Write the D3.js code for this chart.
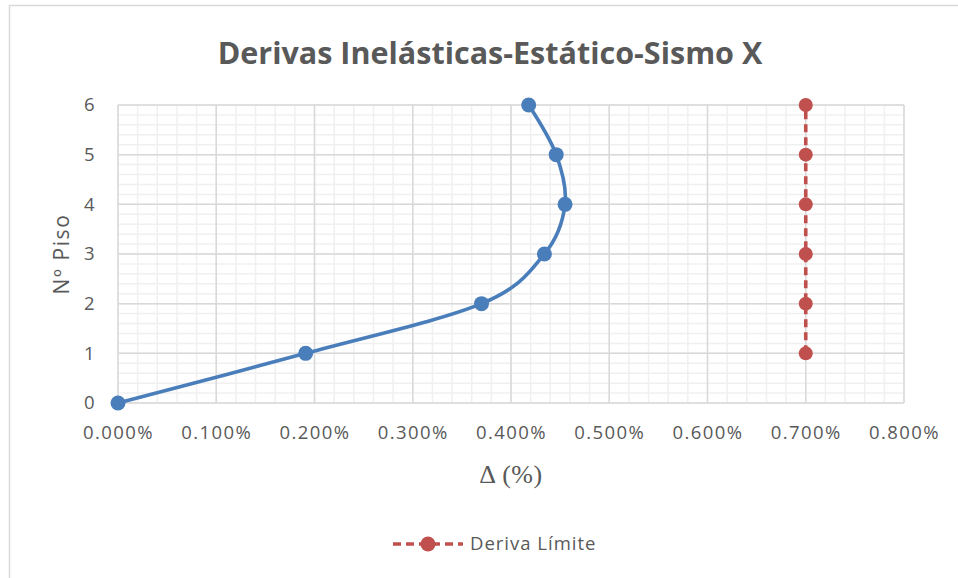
<!DOCTYPE html>
<html>
<head>
<meta charset="utf-8">
<script src="https://cdn.jsdelivr.net/npm/d3@7"></script>
<style>
  html, body { margin: 0; padding: 0; background: #fff; }
  svg { display: block; }
</style>
</head>
<body>
<svg id="chart" width="958" height="578"></svg>
<script>
// Storey levels and inelastic drift (%) for the static X load case
const floors = [0, 1, 2, 3, 4, 5, 6];
const driftPct = [0.000, 0.191, 0.370, 0.434, 0.455, 0.446, 0.418];

// Code drift limit, drawn from floor 1 upward
const limitFloors = [1, 2, 3, 4, 5, 6];
const limitPct = [0.7, 0.7, 0.7, 0.7, 0.7, 0.7];

// Axis ticks
const xTicks = [0, 0.1, 0.2, 0.3, 0.4, 0.5, 0.6, 0.7, 0.8];
const yTicks = [0, 1, 2, 3, 4, 5, 6];

const titleText = "Derivas Inelásticas-Estático-Sismo X";
const xTitle = "Δ (%)";
const yTitle = "Nº Piso";
const legendLabel = "Deriva Límite";

const svg = d3.select("#chart");
const W = 958, H = 578;
const plot = { left: 118, right: 904, top: 105, bottom: 403 };

const x = d3.scaleLinear().domain([0, 0.8]).range([plot.left, plot.right]);
const y = d3.scaleLinear().domain([0, 6]).range([plot.bottom, plot.top]);

const textColor = "#595959";
const blue = "#4a7ebb";
const red = "#c0504d";
const sans = "'Open Sans', 'Noto Sans', sans-serif";

// Outer chart frame
svg.append("rect")
  .attr("x", 9.5).attr("y", 5.5)
  .attr("width", W + 20).attr("height", H + 20)
  .attr("fill", "#fff")
  .attr("stroke", "#d9d9d9").attr("stroke-width", 1.5);

// Title
svg.append("text")
  .attr("x", 490).attr("y", 64)
  .attr("text-anchor", "middle")
  .attr("font-family", sans)
  .attr("font-weight", 700)
  .attr("font-size", 30.5)
  .attr("fill", textColor)
  .text(titleText);

// Minor gridlines
const xMinor = d3.range(0, 0.8001, 0.02);
const yMinor = d3.range(0, 6.0001, 0.2);
const grid = svg.append("g");
grid.selectAll(".vminor").data(xMinor).join("line")
  .attr("x1", d => x(d)).attr("x2", d => x(d))
  .attr("y1", plot.top).attr("y2", plot.bottom)
  .attr("stroke", "#f0f0f0").attr("stroke-width", 1.5);
grid.selectAll(".hminor").data(yMinor).join("line")
  .attr("x1", plot.left).attr("x2", plot.right)
  .attr("y1", d => y(d)).attr("y2", d => y(d))
  .attr("stroke", "#f0f0f0").attr("stroke-width", 1.5);

// Major gridlines
grid.selectAll(".vmajor").data(xTicks).join("line")
  .attr("x1", d => x(d)).attr("x2", d => x(d))
  .attr("y1", plot.top).attr("y2", plot.bottom)
  .attr("stroke", "#d9d9d9").attr("stroke-width", 1.5);
grid.selectAll(".hmajor").data(yTicks).join("line")
  .attr("x1", plot.left).attr("x2", plot.right)
  .attr("y1", d => y(d)).attr("y2", d => y(d))
  .attr("stroke", "#d9d9d9").attr("stroke-width", 1.5);

// Axes (labels only; lines come from the grid)
const xAxis = svg.append("g")
  .attr("transform", `translate(0,${plot.bottom})`)
  .call(d3.axisBottom(x).tickValues(xTicks).tickSize(0).tickPadding(30)
    .tickFormat(d => d.toFixed(3) + "%"));
const yAxis = svg.append("g")
  .attr("transform", `translate(${plot.left},0)`)
  .call(d3.axisLeft(y).tickValues(yTicks).tickSize(0).tickPadding(22)
    .tickFormat(d3.format("d")));
[xAxis, yAxis].forEach(a => {
  a.select(".domain").remove();
  a.selectAll("text")
    .attr("font-family", sans)
    .attr("font-size", 18.5)
    .attr("letter-spacing", 1.4)
    .attr("fill", textColor);
});
xAxis.selectAll("text").attr("dy", "0.32em");

// Axis titles
svg.append("text")
  .attr("x", (plot.left + plot.right) / 2).attr("y", 483)
  .attr("text-anchor", "middle")
  .attr("font-family", "'Liberation Serif', 'DejaVu Serif', serif")
  .attr("font-size", 26)
  .attr("letter-spacing", 0.5)
  .attr("fill", textColor)
  .text(xTitle);

svg.append("text")
  .attr("transform", `translate(69,${(plot.top + plot.bottom) / 2}) rotate(-90)`)
  .attr("text-anchor", "middle")
  .attr("font-family", sans)
  .attr("font-size", 21)
  .attr("letter-spacing", 1.6)
  .attr("fill", textColor)
  .text(yTitle);

// Drift profile: smoothed line with markers
const drift = floors.map((f, i) => ({ f, v: driftPct[i] }));
const smooth = d3.line()
  .x(d => x(d.v)).y(d => y(d.f))
  .curve(d3.curveCardinal.tension(0));
svg.append("path")
  .datum(drift)
  .attr("d", smooth)
  .attr("fill", "none")
  .attr("stroke", blue)
  .attr("stroke-width", 3.6)
  .attr("stroke-linecap", "round");
svg.selectAll(".drift-pt").data(drift).join("circle")
  .attr("cx", d => x(d.v)).attr("cy", d => y(d.f))
  .attr("r", 7.5)
  .attr("fill", blue);

// Drift limit: dashed line with markers
const limit = limitFloors.map((f, i) => ({ f, v: limitPct[i] }));
const straight = d3.line().x(d => x(d.v)).y(d => y(d.f));
svg.append("path")
  .datum(limit)
  .attr("d", straight)
  .attr("fill", "none")
  .attr("stroke", red)
  .attr("stroke-width", 3.6)
  .attr("stroke-dasharray", "8,5");
svg.selectAll(".limit-pt").data(limit).join("circle")
  .attr("cx", d => x(d.v)).attr("cy", d => y(d.f))
  .attr("r", 7)
  .attr("fill", red);

// Legend
const lg = svg.append("g").attr("transform", "translate(393,544)");
lg.append("line")
  .attr("x1", 0).attr("x2", 70).attr("y1", 0).attr("y2", 0)
  .attr("stroke", red).attr("stroke-width", 3.6)
  .attr("stroke-dasharray", "8,5");
lg.append("circle").attr("cx", 35).attr("cy", 0).attr("r", 7.5).attr("fill", red);
lg.append("text")
  .attr("x", 77).attr("y", 0).attr("dy", "0.35em")
  .attr("font-family", sans)
  .attr("font-size", 18.5)
  .attr("letter-spacing", 1)
  .attr("fill", textColor)
  .text(legendLabel);
</script>
</body>
</html>
